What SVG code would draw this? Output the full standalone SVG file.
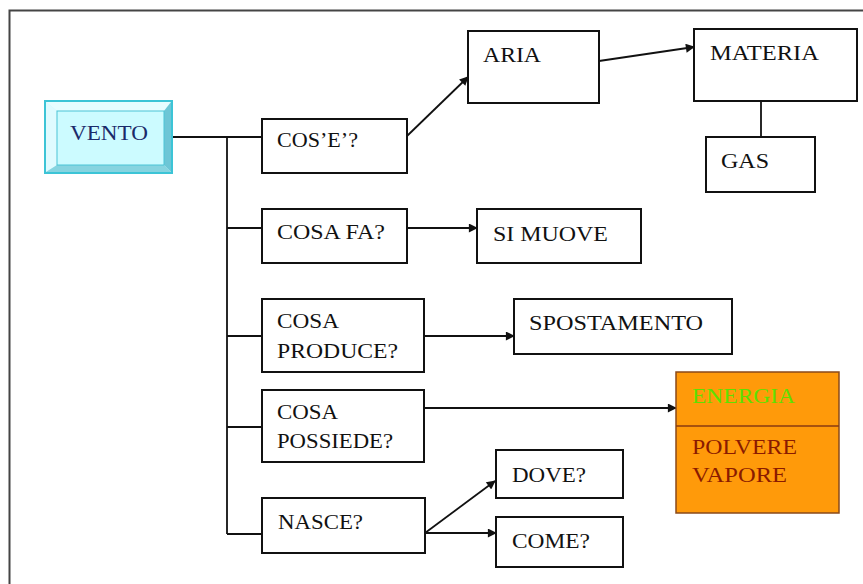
<svg xmlns="http://www.w3.org/2000/svg" width="863" height="584" viewBox="0 0 863 584">
<style>
.box{fill:#fff;stroke:#111;stroke-width:2}
.t{font-family:"Liberation Serif","Times New Roman",serif;font-size:20px;fill:#111}
.ln{fill:none;stroke:#111;stroke-width:1.8}
</style>
<defs>
<marker id="ah" viewBox="0 0 10 10" refX="9" refY="5" markerWidth="10" markerHeight="9" markerUnits="userSpaceOnUse" orient="auto">
<path d="M0,0 L10,5 L0,10 z" fill="#111"/>
</marker>
</defs>
<rect x="0" y="0" width="863" height="584" fill="#fff"/>
<rect x="9.5" y="10.5" width="880" height="600" fill="none" stroke="#444" stroke-width="2"/>

<g id="connectors">
<polyline class="ln" points="172,137 262,137"/>
<line class="ln" x1="227" y1="137" x2="227" y2="534"/>
<line class="ln" x1="227" y1="228" x2="262" y2="228"/>
<line class="ln" x1="227" y1="336" x2="262" y2="336"/>
<line class="ln" x1="227" y1="427" x2="262" y2="427"/>
<line class="ln" x1="227" y1="534" x2="262" y2="534"/>
<line class="ln" x1="407" y1="136" x2="468" y2="77" marker-end="url(#ah)"/>
<line class="ln" x1="599" y1="61" x2="694" y2="47" marker-end="url(#ah)"/>
<line class="ln" x1="761" y1="101" x2="761" y2="137"/>
<line class="ln" x1="407" y1="228" x2="477" y2="228" marker-end="url(#ah)"/>
<line class="ln" x1="424" y1="336" x2="514" y2="336" marker-end="url(#ah)"/>
<line class="ln" x1="424" y1="408" x2="676" y2="408" marker-end="url(#ah)"/>
<line class="ln" x1="425" y1="533" x2="495" y2="481" marker-end="url(#ah)"/>
<line class="ln" x1="425" y1="533" x2="496" y2="533" marker-end="url(#ah)"/>
</g>

<g id="vento">
<rect x="45" y="101" width="127" height="72" fill="#c8f6fb" stroke="#3cc4d6" stroke-width="2"/>
<polygon points="46,102 171,102 164,111 57,111" fill="#e6fdff"/>
<polygon points="46,102 57,111 57,165 46,172" fill="#dffbff"/>
<polygon points="171,102 171,172 164,165 164,111" fill="#6cc6d6"/>
<polygon points="46,172 171,172 164,165 57,165" fill="#86d4e0"/>
<rect x="57" y="111" width="107" height="54" fill="#ccfbff" stroke="#4ac4d6" stroke-width="1"/>
<text class="t" x="70" y="140" textLength="78" lengthAdjust="spacingAndGlyphs" fill="#1a2a6a" style="fill:#1a2a6a">VENTO</text>
</g>

<g id="cose">
<rect class="box" x="262" y="119" width="145" height="54"/>
<text class="t" x="277" y="147" textLength="81" lengthAdjust="spacingAndGlyphs">COS’E’?</text>
</g>

<g id="aria">
<rect class="box" x="468" y="31" width="131" height="72"/>
<text class="t" x="483" y="62" textLength="58" lengthAdjust="spacingAndGlyphs">ARIA</text>
</g>

<g id="materia">
<rect class="box" x="694" y="29" width="163" height="72"/>
<text class="t" x="710" y="60" textLength="109" lengthAdjust="spacingAndGlyphs">MATERIA</text>
</g>

<g id="gas">
<rect class="box" x="706" y="137" width="109" height="55"/>
<text class="t" x="721" y="168" textLength="48" lengthAdjust="spacingAndGlyphs">GAS</text>
</g>

<g id="cosafa">
<rect class="box" x="262" y="209" width="145" height="54"/>
<text class="t" x="277" y="239" textLength="108" lengthAdjust="spacingAndGlyphs">COSA FA?</text>
</g>

<g id="simuove">
<rect class="box" x="477" y="209" width="164" height="54"/>
<text class="t" x="493" y="241" textLength="115" lengthAdjust="spacingAndGlyphs">SI MUOVE</text>
</g>

<g id="produce">
<rect class="box" x="262" y="299" width="162" height="73"/>
<text class="t" x="277" y="328" textLength="62" lengthAdjust="spacingAndGlyphs">COSA</text>
<text class="t" x="277" y="358" textLength="121" lengthAdjust="spacingAndGlyphs">PRODUCE?</text>
</g>

<g id="spostamento">
<rect class="box" x="514" y="299" width="218" height="55"/>
<text class="t" x="529" y="330" textLength="174" lengthAdjust="spacingAndGlyphs">SPOSTAMENTO</text>
</g>

<g id="possiede">
<rect class="box" x="262" y="390" width="162" height="72"/>
<text class="t" x="277" y="419" textLength="61" lengthAdjust="spacingAndGlyphs">COSA</text>
<text class="t" x="277" y="448" textLength="116" lengthAdjust="spacingAndGlyphs">POSSIEDE?</text>
</g>

<g id="energia">
<rect x="676" y="372" width="163" height="141" fill="#ff9a0a" stroke="#8a4a1a" stroke-width="1.5"/>
<line x1="676" y1="426" x2="839" y2="426" stroke="#8a3a10" stroke-width="1.5"/>
<text class="t" x="692" y="403" textLength="103" lengthAdjust="spacingAndGlyphs" style="fill:#5ee000">ENERGIA</text>
<text class="t" x="692" y="454" textLength="105" lengthAdjust="spacingAndGlyphs" style="fill:#8a1a00">POLVERE</text>
<text class="t" x="692" y="482" textLength="95" lengthAdjust="spacingAndGlyphs" style="fill:#8a1a00">VAPORE</text>
</g>

<g id="nasce">
<rect class="box" x="262" y="498" width="163" height="55"/>
<text class="t" x="278" y="529" textLength="85" lengthAdjust="spacingAndGlyphs">NASCE?</text>
</g>

<g id="dove">
<rect class="box" x="496" y="450" width="127" height="48"/>
<text class="t" x="512" y="482" textLength="74" lengthAdjust="spacingAndGlyphs">DOVE?</text>
</g>

<g id="come">
<rect class="box" x="496" y="517" width="127" height="50"/>
<text class="t" x="512" y="548" textLength="78" lengthAdjust="spacingAndGlyphs">COME?</text>
</g>
</svg>
